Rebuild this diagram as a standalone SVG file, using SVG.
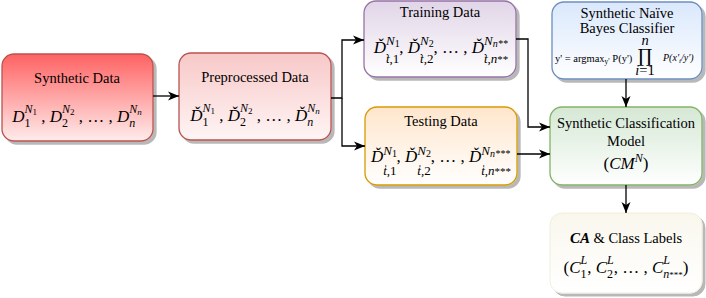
<svg xmlns="http://www.w3.org/2000/svg" width="706" height="298" viewBox="0 0 706 298">
<style>
text{font-family:"Liberation Serif","Times New Roman","DejaVu Serif",serif;fill:#000}
.t{font-size:14.5px;text-anchor:middle}
.m{font-size:17px;text-anchor:middle}
.i{font-style:italic}
.box{stroke-width:1.3}
.c{fill:none;stroke:#000;stroke-width:1.3;marker-end:url(#ah)}
</style>
<defs>
<filter id="sh" x="-10%" y="-10%" width="130%" height="130%"><feDropShadow dx="3" dy="3" stdDeviation="0.6" flood-color="#000" flood-opacity="0.28"/></filter>
<linearGradient id="gSD" x1="0" y1="0" x2="0" y2="1"><stop offset="0" stop-color="#ff6262"/><stop offset="1" stop-color="#ffecec"/></linearGradient>
<linearGradient id="gPD" x1="0" y1="0" x2="0" y2="1"><stop offset="0" stop-color="#f8c8c8"/><stop offset="1" stop-color="#fff5f5"/></linearGradient>
<linearGradient id="gTR" x1="0" y1="0" x2="0" y2="1"><stop offset="0" stop-color="#e1d5e7"/><stop offset="1" stop-color="#ffffff"/></linearGradient>
<linearGradient id="gTE" x1="0" y1="0" x2="0" y2="1"><stop offset="0" stop-color="#ffe6cc"/><stop offset="1" stop-color="#ffffff"/></linearGradient>
<linearGradient id="gNB" x1="0" y1="0" x2="0" y2="1"><stop offset="0" stop-color="#dae8fc"/><stop offset="1" stop-color="#ffffff"/></linearGradient>
<linearGradient id="gCM" x1="0" y1="0" x2="0" y2="1"><stop offset="0" stop-color="#d5e8d4"/><stop offset="1" stop-color="#ffffff"/></linearGradient>
<linearGradient id="gCA" x1="0" y1="0" x2="0" y2="1"><stop offset="0" stop-color="#f9f7ed"/><stop offset="1" stop-color="#ffffff"/></linearGradient>
<marker id="ah" markerUnits="userSpaceOnUse" markerWidth="12" markerHeight="12" viewBox="0 0 12 12" refX="11" refY="6" orient="auto"><path d="M0,1.5 L11,6 L0,10.5 L3,6 z" fill="#000"/></marker>
</defs>

<g id="synthetic-data">
<rect class="box" x="2" y="54" width="151" height="87" rx="12" fill="url(#gSD)" stroke="#b85450" filter="url(#sh)"/>
<text class="t" x="77" y="83">Synthetic Data</text>
<text class="m" x="77" y="122"><tspan class="i">D</tspan><tspan font-size="12" dy="5">1</tspan><tspan font-size="12" class="i" dx="-6" dy="-14">N</tspan><tspan font-size="9" dy="2">1</tspan><tspan dy="7"> , </tspan><tspan class="i">D</tspan><tspan font-size="12" dy="5">2</tspan><tspan font-size="12" class="i" dx="-6" dy="-14">N</tspan><tspan font-size="9" dy="2">2</tspan><tspan dy="7"> , … , </tspan><tspan class="i">D</tspan><tspan font-size="12" class="i" dy="5">n</tspan><tspan font-size="12" class="i" dx="-6" dy="-14">N</tspan><tspan font-size="9" class="i" dy="2">n</tspan></text>
</g>

<g id="preprocessed-data">
<rect class="box" x="179" y="53" width="152" height="87" rx="12" fill="url(#gPD)" stroke="#b85450" filter="url(#sh)"/>
<text class="t" x="255" y="82">Preprocessed Data</text>
<text class="m" x="255" y="121"><tspan class="i">Ď</tspan><tspan font-size="12" dy="5">1</tspan><tspan font-size="12" class="i" dx="-6" dy="-14">N</tspan><tspan font-size="9" dy="2">1</tspan><tspan dy="7"> , </tspan><tspan class="i">Ď</tspan><tspan font-size="12" dy="5">2</tspan><tspan font-size="12" class="i" dx="-6" dy="-14">N</tspan><tspan font-size="9" dy="2">2</tspan><tspan dy="7"> , … , </tspan><tspan class="i">Ď</tspan><tspan font-size="12" class="i" dy="5">n</tspan><tspan font-size="12" class="i" dx="-6" dy="-14">N</tspan><tspan font-size="9" class="i" dy="2">n</tspan></text>
</g>

<g id="training-data">
<rect class="box" x="364" y="1" width="152" height="76" rx="12" fill="url(#gTR)" stroke="#9673a6" filter="url(#sh)"/>
<text class="t" x="440" y="17">Training Data</text>
<text class="m" x="441" y="53" font-size="18.5"><tspan class="i">Ď</tspan><tspan font-size="13" class="i" dy="-8">N</tspan><tspan font-size="10" dy="2">1</tspan><tspan font-size="13" class="i" dx="-13.7" dy="16">t̀</tspan><tspan font-size="13">,1</tspan><tspan dy="-10">, </tspan><tspan class="i">Ď</tspan><tspan font-size="13" class="i" dy="-8">N</tspan><tspan font-size="10" dy="2">2</tspan><tspan font-size="13" class="i" dx="-13.7" dy="16">t̀</tspan><tspan font-size="13">,2</tspan><tspan dy="-10">, … , </tspan><tspan class="i">Ď</tspan><tspan font-size="13" class="i" dy="-8">N</tspan><tspan font-size="10" class="i" dy="2">n**</tspan><tspan font-size="13" class="i" dx="-23.7" dy="16">t̀</tspan><tspan font-size="13">,</tspan><tspan font-size="13" class="i">n</tspan><tspan font-size="11">**</tspan></text>
</g>

<g id="testing-data">
<rect class="box" x="365" y="107" width="152" height="78" rx="12" fill="url(#gTE)" stroke="#d79b00" filter="url(#sh)"/>
<text class="t" x="441" y="126">Testing Data</text>
<text class="m" x="441" y="162" font-size="18"><tspan class="i">Ď</tspan><tspan font-size="13" class="i" dy="-7">N</tspan><tspan font-size="10" dy="2">1</tspan><tspan font-size="13" class="i" dx="-13.7" dy="18">t̍</tspan><tspan font-size="13">,1</tspan><tspan dy="-13">, </tspan><tspan class="i">Ď</tspan><tspan font-size="13" class="i" dy="-7">N</tspan><tspan font-size="10" dy="2">2</tspan><tspan font-size="13" class="i" dx="-13.7" dy="18">t̍</tspan><tspan font-size="13">,2</tspan><tspan dy="-13">, … , </tspan><tspan class="i">Ď</tspan><tspan font-size="13" class="i" dy="-7">N</tspan><tspan font-size="10" class="i" dy="2">n***</tspan><tspan font-size="13" class="i" dx="-28.7" dy="18">t̍</tspan><tspan font-size="13">,</tspan><tspan font-size="13" class="i">n</tspan><tspan font-size="11">***</tspan></text>
</g>

<g id="naive-bayes-classifier">
<rect class="box" x="552" y="2" width="150" height="77" rx="12" fill="url(#gNB)" stroke="#6c8ebf" filter="url(#sh)"/>
<text class="t" x="627" y="18" font-size="15">Synthetic Naïve</text>
<text class="t" x="627" y="33" font-size="15">Bayes Classifier</text>
<text x="555" y="62" font-size="10.5">y' = argmax<tspan font-size="7.5" dy="2">y'</tspan><tspan dy="-2"> P(y')</tspan></text>
<text class="t" font-size="9.5"><tspan class="i" x="645" y="45">n</tspan><tspan x="645" y="62" font-size="18" font-family="DejaVu Serif,serif">∏</tspan><tspan x="645" y="75"><tspan class="i">i</tspan>=1</tspan></text>
<text x="663" y="61" font-size="10" font-style="italic">P(x'<tspan font-size="7" dy="2">i</tspan><tspan dy="-2">/y')</tspan></text>
</g>

<g id="classification-model">
<rect class="box" x="550" y="107" width="152" height="78" rx="12" fill="url(#gCM)" stroke="#82b366" filter="url(#sh)"/>
<text class="t" x="626" y="128" font-size="15.5">Synthetic Classification</text>
<text class="t" x="626" y="146" font-size="15.5">Model</text>
<text class="m" x="626" y="169" font-size="17.5">(<tspan class="i">CM</tspan><tspan class="i" font-size="12" dy="-7">N</tspan><tspan dy="7">)</tspan></text>
</g>

<g id="class-labels">
<rect x="550" y="213" width="152" height="80" rx="12" fill="url(#gCA)" stroke="#f1eedd" filter="url(#sh)"/>
<text class="t" x="626" y="243" font-size="15"><tspan class="i" font-size="15" font-weight="bold">CA</tspan> &amp; Class Labels</text>
<text class="m" x="626" y="273" font-size="18">(<tspan class="i">C</tspan><tspan font-size="12" dy="5">1</tspan><tspan font-size="12" class="i" dx="-6" dy="-14">L</tspan><tspan dy="9">, </tspan><tspan class="i">C</tspan><tspan font-size="12" dy="5">2</tspan><tspan font-size="12" class="i" dx="-6" dy="-14">L</tspan><tspan dy="9">, … , </tspan><tspan class="i">C</tspan><tspan font-size="12" class="i" dy="-9">L</tspan><tspan font-size="12" class="i" dx="-6.7" dy="14">n</tspan><tspan font-size="9">***</tspan><tspan dy="-5">)</tspan></text>
</g>

<g id="connectors">
<path class="c" d="M153,96 L179,96"/>
<path class="c" d="M331,98 L342,98 L342,40 L364,40"/>
<path class="c" d="M342,98 L342,146 L365,146"/>
<path class="c" d="M516,39 L528,39 L528,127 L550,127"/>
<path class="c" d="M517,154 L550,154"/>
<path class="c" d="M626,79 L626,107"/>
<path class="c" d="M626,185 L626,213"/>
</g>
</svg>
